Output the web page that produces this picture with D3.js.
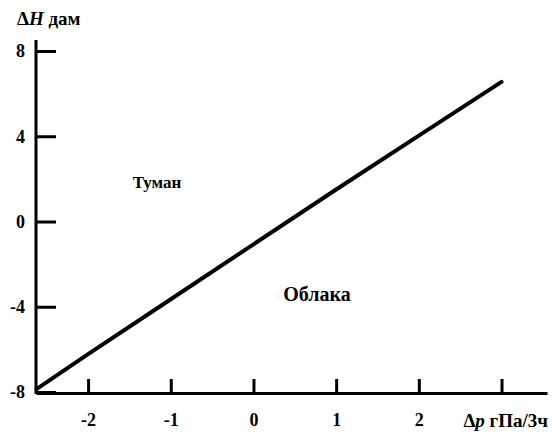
<!DOCTYPE html>
<html>
<head>
<meta charset="utf-8">
<script src="https://cdn.jsdelivr.net/npm/d3@7"></script>
<style>
  html, body { margin: 0; padding: 0; background: #fff; }
  svg { display: block; }
</style>
</head>
<body>
<svg id="chart" width="555" height="432"></svg>
<script>
// Pressure tendency (hPa / 3 h) against geopotential height change (dam)
const dpValues = [-2.62, -2, -1, 0, 1, 2, 3];
const dhValues = [-7.85, -6.22, -3.65, -1.07, 1.5, 4.03, 6.55];
const xTicks = [-2, -1, 0, 1, 2, 3];
const xTickLabels = ["-2", "-1", "0", "1", "2", ""];
const yTicks = [-8, -4, 0, 4, 8];
const yTickLabels = ["-8", "-4", "0", "4", "8"];
const regionLabels = [
  { text: "Туман", dp: -1.46, dh: 1.57, size: 17 },
  { text: "Облака", dp: 0.36, dh: -3.73, size: 20 }
];

const FONT = '"Liberation Serif", "Times New Roman", serif';

const svg = d3.select("#chart");

const x = d3.scaleLinear().domain([-2.63, 3.55]).range([36, 547]);
const y = d3.scaleLinear().domain([-8, 8]).range([392, 51]);

const axisY = 393;

function serif(sel, size) {
  return sel.style("font-family", FONT).style("font-weight", "bold").style("font-size", size + "px");
}

// x axis: ticks pointing up into the plot
const gx = svg.append("g").attr("transform", `translate(0,${axisY})`)
  .call(d3.axisBottom(x).tickValues(xTicks)
    .tickFormat((d, i) => xTickLabels[i])
    .tickSizeInner(-14).tickSizeOuter(0).tickPadding(20));
serif(gx.selectAll(".tick text"), 18);
gx.select(".domain").attr("stroke", "#000").attr("stroke-width", 3);
gx.selectAll(".tick line").attr("stroke", "#000").attr("stroke-width", 3);

// y axis: ticks pointing right into the plot
const gy = svg.append("g").attr("transform", `translate(${x(-2.63)},0)`)
  .call(d3.axisLeft(y).tickValues(yTicks)
    .tickFormat((d, i) => yTickLabels[i])
    .tickSizeInner(-20).tickSizeOuter(0).tickPadding(11));
serif(gy.selectAll(".tick text"), 18);
gy.select(".domain").attr("stroke", "#000").attr("stroke-width", 3)
  .attr("d", `M0,40V${axisY + 1}`);
gy.selectAll(".tick line").attr("stroke", "#000").attr("stroke-width", 3);

// relation line
const line = d3.line().x((d, i) => x(dpValues[i])).y(d => y(d));
svg.append("path").datum(dhValues)
  .attr("d", line)
  .attr("fill", "none")
  .attr("stroke", "#000")
  .attr("stroke-width", 4)
  .attr("stroke-linecap", "round")
  .attr("stroke-linejoin", "round");

// axis titles
const yTitle = serif(svg.append("text").attr("x", 17).attr("y", 25), 19);
yTitle.append("tspan").text("Δ");
yTitle.append("tspan").style("font-style", "italic").text("H");
yTitle.append("tspan").text(" дам");

const xTitle = serif(svg.append("text").attr("x", 548).attr("y", 427)
  .attr("text-anchor", "end"), 19);
xTitle.append("tspan").text("Δ");
xTitle.append("tspan").style("font-style", "italic").text("p");
xTitle.append("tspan").text(" гПа/3ч");

// region labels
svg.selectAll("text.region").data(regionLabels).enter().append("text")
  .attr("class", "region")
  .attr("x", d => x(d.dp))
  .attr("y", d => y(d.dh))
  .style("font-family", FONT)
  .style("font-weight", "bold")
  .style("font-size", d => d.size + "px")
  .text(d => d.text);
</script>
</body>
</html>
